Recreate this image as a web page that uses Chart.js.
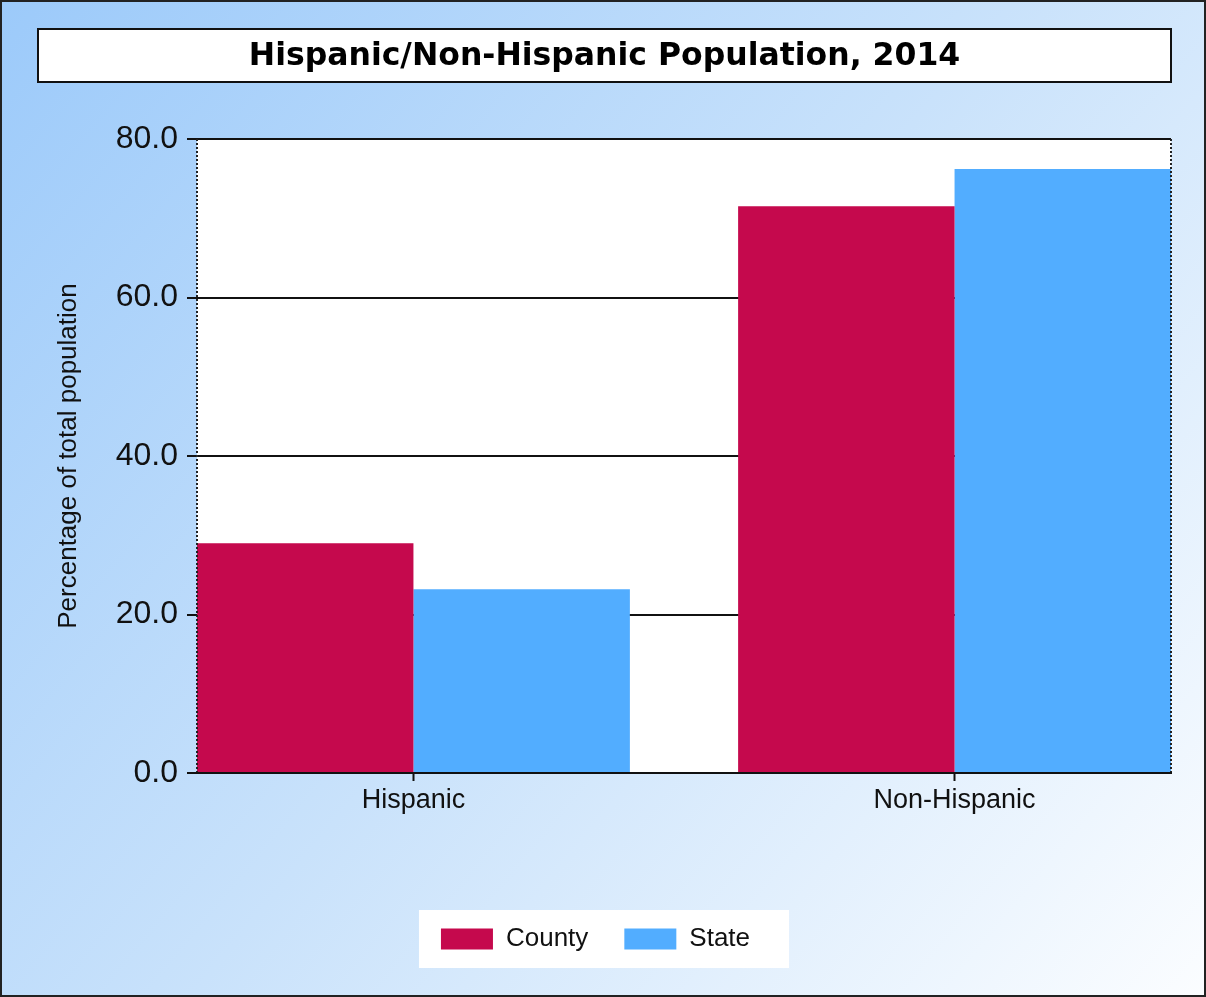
<!DOCTYPE html>
<html>
<head>
<meta charset="utf-8">
<script src="https://cdn.jsdelivr.net/npm/chart.js@4"></script>
<style>
  html, body { margin: 0; padding: 0; background: #fff; }
  canvas { display: block; }
</style>
</head>
<body>
<canvas id="grafico" width="1206" height="997"></canvas>
<script>
// Datos del gráfico
const categorias = ['Hispanic', 'Non-Hispanic'];
const condado = [29.0, 71.5];
const estado = [23.2, 76.2];
const ticksY = [0, 20, 40, 60, 80];
const titulo = 'Hispanic/Non-Hispanic Population, 2014';
const tituloEje = 'Percentage of total population';

const fuente = "'Liberation Sans', Arial, sans-serif";

// Fondo degradado, caja del título, área blanca y caja de la leyenda
const fondo = {
  id: 'fondo',
  beforeDraw(chart) {
    const { ctx, width, height, chartArea } = chart;
    ctx.save();
    const grad = ctx.createLinearGradient(0, 0, width, height);
    grad.addColorStop(0, '#9ccafa');
    grad.addColorStop(0.5, '#c9e2fb');
    grad.addColorStop(1, '#fbfdff');
    ctx.fillStyle = grad;
    ctx.fillRect(0, 0, width, height);

    ctx.fillStyle = '#fff';
    ctx.fillRect(chartArea.left, chartArea.top, chartArea.width, chartArea.height);

    // caja del título
    const tx = 38, ty = 29, tw = chartArea.right - 38, th = 53;
    ctx.fillStyle = '#fff';
    ctx.fillRect(tx, ty, tw, th);
    ctx.lineWidth = 2;
    ctx.strokeStyle = '#111';
    ctx.strokeRect(tx, ty, tw, th);
    ctx.fillStyle = '#000';
    ctx.font = "bold 31.5px 'DejaVu Sans', Verdana, sans-serif";
    ctx.textAlign = 'center';
    ctx.textBaseline = 'middle';
    ctx.fillText(titulo, tx + tw / 2, ty + th / 2 + 1);

    // caja blanca de la leyenda
    const cajas = chart.legend.legendHitBoxes;
    if (cajas && cajas.length) {
      const primera = cajas[0];
      const ultima = cajas[cajas.length - 1];
      const cy = primera.top + primera.height / 2;
      ctx.fillStyle = '#fff';
      ctx.fillRect(primera.left - 22, cy - 29, ultima.left + ultima.width + 39 - (primera.left - 22), 58);
    }
    ctx.restore();
  },
  afterDatasetsDraw(chart) {
    const { ctx, chartArea } = chart;
    ctx.save();
    ctx.strokeStyle = '#222';
    ctx.lineWidth = 2;
    ctx.setLineDash([2, 2]);
    ctx.beginPath();
    ctx.moveTo(chartArea.left, chartArea.top);
    ctx.lineTo(chartArea.left, chartArea.bottom);
    ctx.moveTo(chartArea.right, chartArea.top);
    ctx.lineTo(chartArea.right, chartArea.bottom);
    ctx.stroke();
    ctx.restore();
  },
  afterDraw(chart) {
    const { ctx, width, height } = chart;
    ctx.save();
    ctx.strokeStyle = '#222';
    ctx.lineWidth = 2;
    ctx.strokeRect(1, 1, width - 2, height - 2);
    ctx.restore();
  }
};

const ctx = document.getElementById('grafico').getContext('2d');

new Chart(ctx, {
  type: 'bar',
  data: {
    datasets: [
      {
        label: 'County',
        data: condado.map((v, i) => ({ x: i + 1, y: v })),
        backgroundColor: '#c5094d',
        categoryPercentage: 0.8,
        barPercentage: 1.0
      },
      {
        label: 'State',
        data: estado.map((v, i) => ({ x: i + 1, y: v })),
        backgroundColor: '#52adff',
        categoryPercentage: 0.8,
        barPercentage: 1.0
      }
    ]
  },
  options: {
    responsive: false,
    animation: false,
    layout: { padding: { top: 139, left: 20, right: 35, bottom: 35 } },
    plugins: {
      tooltip: { enabled: false },
      legend: {
        position: 'bottom',
        labels: {
          boxWidth: 52,
          boxHeight: 21,
          padding: 36,
          color: '#111',
          font: { family: fuente, size: 26 }
        }
      }
    },
    scales: {
      x: {
        type: 'linear',
        min: 0.6,
        max: 2.4,
        offset: false,
        afterBuildTicks: eje => { eje.ticks = categorias.map((c, i) => ({ value: i + 1 })); },
        afterFit: eje => { eje.height = 117; },
        ticks: {
          callback: v => categorias[v - 1],
          color: '#111',
          padding: 3,
          maxRotation: 0,
          autoSkip: false,
          font: { family: fuente, size: 27 }
        },
        grid: { drawOnChartArea: false, tickLength: 8, tickColor: '#111', tickWidth: 2, offset: false },
        border: { color: '#111', width: 2, z: 1 }
      },
      y: {
        min: 0,
        max: 80,
        afterBuildTicks: eje => { eje.ticks = ticksY.map(v => ({ value: v })); },
        afterFit: eje => { eje.width = 177; },
        ticks: {
          callback: v => v.toFixed(1),
          color: '#111',
          padding: 9,
          font: { family: fuente, size: 32 }
        },
        grid: { color: '#111', lineWidth: 2, tickLength: 10 },
        border: { display: false },
        title: {
          display: true,
          text: tituloEje,
          color: '#111',
          padding: { top: 33, bottom: 0 },
          font: { family: fuente, size: 26 }
        }
      }
    }
  },
  plugins: [fondo]
});
</script>
</body>
</html>
